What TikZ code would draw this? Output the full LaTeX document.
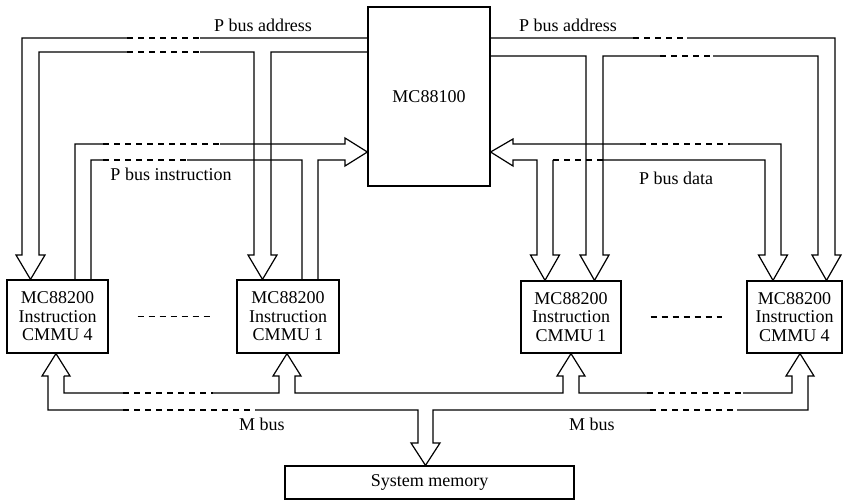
\documentclass[tikz,border=0pt]{standalone}
\usepackage{fontspec}
\setmainfont{Liberation Serif}

\begin{document}
\begin{tikzpicture}[x=0.5pt, y=-0.5pt, line width=0.6pt,
    unit/.style={draw, inner sep=0pt, align=center, font=\fontsize{9}{9.3}\selectfont},
    lbl/.style={inner sep=0pt, font=\fontsize{9}{9.3}\selectfont},
    busgap/.style={dash pattern=on 3pt off 2.5pt}]
    \useasboundingbox (0,0) rectangle (843,502);

    % processor, memory and the four CMMUs
    \node[unit, minimum width=61pt, minimum height=89.5pt] (cpu) at (429,96.5) {MC88100};
    \node[unit, minimum width=144.5pt, minimum height=16.5pt] (memory) at (429.5,482.5) {System memory};
    \node[unit, minimum width=50.5pt, minimum height=36.5pt] (cmmuL4) at (57.5,316.5) {MC88200\\Instruction\\CMMU 4};
    \node[unit, minimum width=51pt, minimum height=36.5pt] (cmmuL1) at (288,316.5) {MC88200\\Instruction\\CMMU 1};
    \node[unit, minimum width=50pt, minimum height=36pt] (cmmuR1) at (571,317) {MC88200\\Instruction\\CMMU 1};
    \node[unit, minimum width=47.5pt, minimum height=36pt] (cmmuR4) at (794.5,317) {MC88200\\Instruction\\CMMU 4};

    % P bus address (left)
    \draw (cpu.west |- 0,38) -- (200,38) (127,38) -- (22,38) -- (22,255) -- (16,255) -- (cmmuL4.north -| 30.5,0) -- (45,255) -- (39,255) -- (39,52) -- (127,52)
          (200,52) -- (254,52) -- (254,255) -- (248,255) -- (cmmuL1.north -| 262.5,0) -- (277,255) -- (271,255) -- (271,52) -- (cpu.west |- 0,52);
    \draw[busgap] (127,38) -- (200,38) (127,52) -- (200,52);
    \node[lbl] (addrL) at (263,25) {P bus address};

    % P bus instruction
    \draw (cmmuL4.north -| 75,0) -- (75,144) -- (103,144) (220,144) -- (345,144) -- (345,138) -- (cpu.west |- 0,152) -- (345,166) -- (345,160) -- (318,160) -- (cmmuL1.north -| 318,0)
          (cmmuL1.north -| 302,0) -- (302,160) -- (187,160) (103,160) -- (91,160) -- (cmmuL4.north -| 91,0);
    \draw[busgap] (103,144) -- (220,144) (103,160) -- (187,160);
    \node[lbl] (instr) at (171,174) {P bus instruction};

    % P bus address (right)
    \draw (cpu.east |- 0,38) -- (633,38) (687,38) -- (835,38) -- (835,255) -- (841,255) -- (cmmuR4.north -| 826.5,0) -- (812,255) -- (818,255) -- (818,56) -- (713,56)
          (660,56) -- (603,56) -- (603,255) -- (609,255) -- (cmmuR1.north -| 594.5,0) -- (580,255) -- (586,255) -- (586,56) -- (cpu.east |- 0,56);
    \draw[busgap] (633,38) -- (687,38) (660,56) -- (713,56);
    \node[lbl] (addrR) at (568,25) {P bus address};

    % P bus data
    \draw (cpu.east |- 0,152) -- (513,139) -- (513,144) -- (640,144) (730,144) -- (781,144) -- (781,255) -- (787.5,255) -- (cmmuR4.north -| 773,0) -- (758.5,255) -- (765,255) -- (765,160) -- (603,160)
          (553,160) -- (553,255) -- (559.5,255) -- (cmmuR1.north -| 545,0) -- (530.5,255) -- (537,255) -- (537,160) -- (513,160) -- (513,166) -- (cpu.east |- 0,152);
    \draw[busgap] (640,144) -- (730,144) (553,160) -- (603,160);
    \node[lbl] (data) at (676,178) {P bus data};

    % M bus
    \draw (64,376) -- (64,393) -- (123,393) (213,393) -- (279,393) -- (279,376) -- (273,376) -- (cmmuL1.south -| 287,0) -- (301,376) -- (295,376) -- (295,393)
          -- (563,393) -- (563,376) -- (557,376) -- (cmmuR1.south -| 571,0) -- (585,376) -- (579,376) -- (579,393) -- (647,393)
          (743,393) -- (792,393) -- (792,376) -- (786,376) -- (cmmuR4.south -| 800,0) -- (814,376) -- (808,376) -- (808,410) -- (737,410)
          (650,410) -- (433,410) -- (433,443) -- (440,443) -- (memory.north -| 425.5,0) -- (411,443) -- (418,443) -- (418,410) -- (255,410)
          (123,410) -- (48,410) -- (48,376) -- (42,376) -- (cmmuL4.south -| 56,0) -- (70,376) -- (64,376);
    \draw[busgap] (123,393) -- (213,393) (647,393) -- (743,393) (123,410) -- (255,410) (650,410) -- (737,410);
    \node[lbl] (mbusL) at (262,424) {M bus};
    \node[lbl] (mbusR) at (592,424) {M bus};

    % more CMMUs in between
    \draw[busgap] ([xshift=14.5pt]cmmuL4.east) -- ([xshift=-12.5pt]cmmuL1.west);
    \draw[busgap] ([xshift=14.5pt]cmmuR1.east) -- ([xshift=-12pt]cmmuR4.west);
\end{tikzpicture}
\end{document}
